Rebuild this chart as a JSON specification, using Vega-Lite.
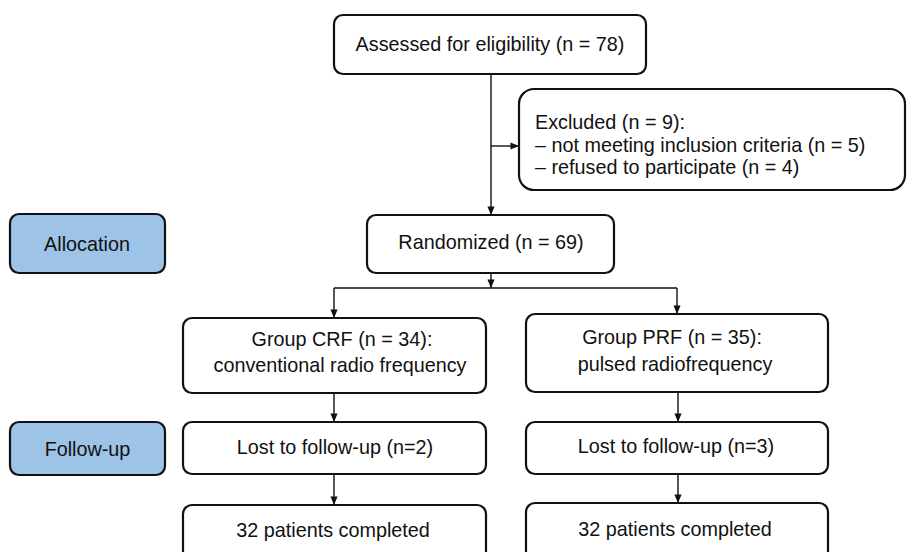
{
  "$schema": "https://vega.github.io/schema/vega-lite/v6.json",
  "width": 907,
  "height": 552,
  "padding": 0,
  "autosize": {"type": "none"},
  "background": "white",
  "config": {"view": {"stroke": null}, "axis": {"disable": true}},
  "datasets": {
    "boxes": [
      {"id": "assessed", "kind": "step", "x0": 334, "x1": 646, "y0": 15, "y1": 74},
      {"id": "excluded", "kind": "note", "x0": 519, "x1": 905, "y0": 89, "y1": 190},
      {"id": "randomized", "kind": "step", "x0": 367, "x1": 614, "y0": 215, "y1": 273},
      {"id": "allocation", "kind": "stage", "x0": 10, "x1": 165, "y0": 214, "y1": 273},
      {"id": "crf", "kind": "step", "x0": 183, "x1": 486, "y0": 318, "y1": 393},
      {"id": "prf", "kind": "step", "x0": 526, "x1": 828, "y0": 314, "y1": 392},
      {"id": "followup", "kind": "stage", "x0": 10, "x1": 165, "y0": 422, "y1": 475},
      {"id": "crf_lost", "kind": "step", "x0": 183, "x1": 486, "y0": 422, "y1": 474},
      {"id": "prf_lost", "kind": "step", "x0": 526, "x1": 828, "y0": 422, "y1": 474},
      {"id": "crf_done", "kind": "step", "x0": 183, "x1": 486, "y0": 505, "y1": 575},
      {"id": "prf_done", "kind": "step", "x0": 526, "x1": 828, "y0": 503, "y1": 575}
    ],
    "segs": [
      {"x0": 491, "y0": 74, "x1": 491, "y1": 215},
      {"x0": 491, "y0": 146, "x1": 519, "y1": 146},
      {"x0": 491, "y0": 273, "x1": 491, "y1": 288},
      {"x0": 334, "y0": 288, "x1": 677, "y1": 288},
      {"x0": 334, "y0": 288, "x1": 334, "y1": 318},
      {"x0": 677, "y0": 288, "x1": 677, "y1": 314},
      {"x0": 334, "y0": 393, "x1": 334, "y1": 422},
      {"x0": 678, "y0": 392, "x1": 678, "y1": 422},
      {"x0": 334, "y0": 474, "x1": 334, "y1": 505},
      {"x0": 678, "y0": 474, "x1": 678, "y1": 503}
    ],
    "arrows": [
      {"x": 491, "y": 215, "dir": "down"},
      {"x": 519, "y": 146, "dir": "right"},
      {"x": 491, "y": 288, "dir": "down"},
      {"x": 334, "y": 318, "dir": "down"},
      {"x": 677, "y": 314, "dir": "down"},
      {"x": 334, "y": 422, "dir": "down"},
      {"x": 678, "y": 422, "dir": "down"},
      {"x": 334, "y": 505, "dir": "down"},
      {"x": 678, "y": 503, "dir": "down"}
    ],
    "labels": [
      {"text": "Assessed for eligibility (n = 78)", "block": "center", "x": 490, "y": 44.5},
      {"text": "Excluded (n = 9):", "block": "list", "x": 535, "y": 123},
      {"text": "– not meeting inclusion criteria (n = 5)", "block": "list", "x": 535, "y": 145.5},
      {"text": "– refused to participate (n = 4)", "block": "list", "x": 535, "y": 168},
      {"text": "Randomized (n = 69)", "block": "center", "x": 491, "y": 242.5},
      {"text": "Allocation", "block": "center", "x": 87, "y": 244.5},
      {"text": "Group CRF (n = 34):", "block": "center", "x": 342, "y": 339.5},
      {"text": "conventional radio frequency", "block": "center", "x": 340, "y": 366},
      {"text": "Group PRF (n = 35):", "block": "center", "x": 672, "y": 337.5},
      {"text": "pulsed radiofrequency", "block": "center", "x": 675, "y": 364.5},
      {"text": "Follow-up", "block": "center", "x": 87.5, "y": 449.5},
      {"text": "Lost to follow-up (n=2)", "block": "center", "x": 335, "y": 447.5},
      {"text": "Lost to follow-up (n=3)", "block": "center", "x": 676, "y": 447},
      {"text": "32 patients completed", "block": "center", "x": 333, "y": 531},
      {"text": "32 patients completed", "block": "center", "x": 675, "y": 529.5}
    ]
  },
  "layer": [
    {
      "data": {"name": "boxes"},
      "transform": [{"filter": "datum.kind !== 'note'"}],
      "mark": {"type": "rect", "cornerRadius": 9, "stroke": "#111111", "strokeWidth": 2.2, "clip": true},
      "encoding": {
        "x": {"field": "x0", "type": "quantitative", "scale": {"domain": [0, 907], "nice": false, "zero": false}},
        "x2": {"field": "x1"},
        "y": {"field": "y0", "type": "quantitative", "scale": {"domain": [0, 552], "nice": false, "zero": false, "reverse": true}},
        "y2": {"field": "y1"},
        "fill": {"field": "kind", "type": "nominal", "scale": {"domain": ["stage", "step", "note"], "range": ["#9dc3e6", "#ffffff", "#ffffff"]}, "legend": null}
      }
    },
    {
      "data": {"name": "boxes"},
      "transform": [{"filter": "datum.kind === 'note'"}],
      "mark": {"type": "rect", "cornerRadius": 15, "stroke": "#111111", "strokeWidth": 2.2, "clip": true},
      "encoding": {
        "x": {"field": "x0", "type": "quantitative"},
        "x2": {"field": "x1"},
        "y": {"field": "y0", "type": "quantitative"},
        "y2": {"field": "y1"},
        "fill": {"field": "kind", "type": "nominal", "legend": null}
      }
    },
    {
      "data": {"name": "segs"},
      "mark": {"type": "rule", "color": "#111111", "strokeWidth": 1.4},
      "encoding": {
        "x": {"field": "x0", "type": "quantitative"},
        "x2": {"field": "x1"},
        "y": {"field": "y0", "type": "quantitative"},
        "y2": {"field": "y1"}
      }
    },
    {
      "data": {"name": "arrows"},
      "mark": {"type": "point", "filled": true, "color": "#111111", "opacity": 1, "size": 400, "strokeWidth": 0},
      "encoding": {
        "x": {"field": "x", "type": "quantitative"},
        "y": {"field": "y", "type": "quantitative"},
        "shape": {"field": "dir", "type": "nominal", "scale": {"domain": ["down", "right"], "range": ["M0,0L-0.36,-0.85L0.36,-0.85Z", "M0,0L-0.85,-0.36L-0.85,0.36Z"]}, "legend": null}
      }
    },
    {
      "data": {"name": "labels"},
      "transform": [{"filter": "datum.block === 'center'"}],
      "mark": {"type": "text", "font": "Liberation Sans", "fontSize": 19.8, "color": "#111111", "align": "center", "baseline": "middle"},
      "encoding": {
        "x": {"field": "x", "type": "quantitative"},
        "y": {"field": "y", "type": "quantitative"},
        "text": {"field": "text", "type": "nominal"}
      }
    },
    {
      "data": {"name": "labels"},
      "transform": [{"filter": "datum.block === 'list'"}],
      "mark": {"type": "text", "font": "Liberation Sans", "fontSize": 19.8, "color": "#111111", "align": "left", "baseline": "middle"},
      "encoding": {
        "x": {"field": "x", "type": "quantitative"},
        "y": {"field": "y", "type": "quantitative"},
        "text": {"field": "text", "type": "nominal"}
      }
    }
  ]
}
